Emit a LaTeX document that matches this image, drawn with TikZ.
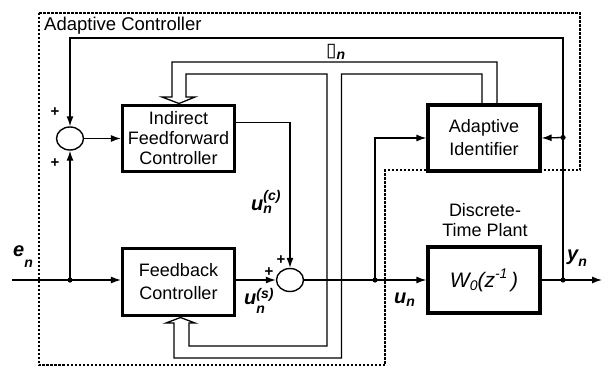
\documentclass[tikz,border=0pt]{standalone}
\usepackage{fontspec}
\setmainfont{Liberation Sans}
\newfontfamily\symfont{DejaVu Sans}
\usetikzlibrary{arrows.meta,shapes.geometric}
\newcommand\lsub[2]{\raisebox{-#1}{\fontsize{14}{14}\selectfont #2}}
\newcommand\lsup[2]{\raisebox{#1}{\fontsize{14}{14}\selectfont #2}}
\begin{document}
\begin{tikzpicture}[x=1pt,y=-1pt,
  blk/.style={draw,line width=3.2pt,minimum width=112pt,minimum height=66pt,inner sep=0pt,align=center,font=\fontsize{18}{20}\selectfont},
  sumc/.style={draw,ellipse,line width=1.4pt,minimum width=27pt,minimum height=23pt,inner sep=0pt},
  wire/.style={line width=1.3pt},
  arr/.style={wire,-{Latex[length=10pt,width=7pt]}},
  lbl/.style={font=\fontsize{20}{20}\selectfont\bfseries\itshape,inner sep=0pt},
  pls/.style={font=\fontsize{15}{15}\selectfont\bfseries,inner sep=0pt},
  bus/.style={line width=1.3pt,line join=miter}]
\useasboundingbox (0,0) rectangle (602,367);
% adaptive controller region
\draw[line width=1.2pt,dash pattern=on 2.5pt off 1.5pt] (39,13) -- (580,13) -- (580,170) -- (385,170) -- (385,365) -- (39,365) -- cycle;
\node[anchor=base west,inner sep=0pt,font=\fontsize{18.5}{20}\selectfont] (acl) at (44,30) {Adaptive Controller};
% blocks
\node[blk] (ff) at (178.5,138.5) {Indirect\\Feedforward\\Controller};
\node[blk,minimum height=67pt,font=\fontsize{18}{23}\selectfont] (fb) at (178.5,282) {Feedback\\Controller};
\node[blk,font=\fontsize{18}{23}\selectfont] (id) at (484,138) {Adaptive\\Identifier};
\node[blk] (pl) at (484,280) {\fontsize{21}{22}\selectfont\itshape W\lsub{3pt}{0}(z\lsup{9pt}{-1}\,)};
\node[align=center,inner sep=0pt,font=\fontsize{18}{19.5}\selectfont] (plt) at (485,220) {Discrete-\\Time Plant};
% summing junctions
\node[sumc] (s1) at (70,138.5) {};
\node[sumc] (s2) at (290,280) {};
% points
\coordinate (ein) at (12,280);
\coordinate (dE) at (70,280);
\coordinate (dU) at (375,280);
\coordinate (dY) at (563,280);
\coordinate (dI) at (563,137.5);
\coordinate (tr) at (563,38);
\coordinate (yout) at (602,280);
% connectors
\draw[arr] (s1.east) -- (ff.west |- s1);
\draw[arr] (ein) -- (fb.west |- ein);
\draw[arr] (dE) -- (s1.south);
\draw[arr] ([yshift=16pt]ff.east) -| (s2.north);
\draw[arr] (fb.east |- s2) -- (s2.west);
\draw[wire] (s2.east) -- (dU);
\draw[arr] (dU) -- (pl.west |- dU);
\draw[arr] (dU) |- (id.west);
\draw[wire] (pl.east |- dY) -- (dY);
\draw[arr] (dY) -- (yout);
\draw[arr] (dY) -- (tr) -| (s1.north);
\draw[arr] (dI) -- (id.east);
\foreach \p in {dE,dU,dY,dI} \fill (\p) circle (2.6pt);
% parameter bus (hollow double line)
\draw[bus] ([xshift=-2pt]id.north) -- (482,74) -- (341.5,74) -- (341.5,358) -- (174,358) -- (174,323) -- (166,323) -- (180.5,317.5) -- (195,323) -- (189,323) -- (189,346) -- (327,346) -- (327,74) -- (186,74) -- (186,97) -- (195,97) -- (179,103.5) -- (162,97) -- (172,97) -- (172,62) -- (497,62) -- ([xshift=13pt]id.north);
% labels
\node[pls] (p1) at (55,112) {+};
\node[pls] (p2) at (55,163) {+};
\node[pls] (p3) at (281,260) {+};
\node[pls] (p4) at (269,272) {+};
\node[lbl,anchor=base west] (len) at (13,256) {e\lsub{11pt}{n}};
\node[lbl,anchor=base west] (lyn) at (567,260) {y\lsub{6pt}{n}};
\node[lbl,anchor=base west] (lun) at (394,303) {u\lsub{3pt}{n}};
\node[lbl,anchor=base west] (luc) at (251,210) {u\rlap{\lsub{3pt}{n}}\lsup{10pt}{(c)}};
\node[lbl,anchor=base west] (lus) at (244,304) {u\rlap{\lsub{9pt}{n}}\lsup{6pt}{(s)}};
\node[anchor=base west,inner sep=0pt,font=\fontsize{19}{19}\selectfont] (lth) at (326,56) {{\symfont ▯}\lsub{3pt}{\bfseries\itshape n}};
\end{tikzpicture}
\end{document}
